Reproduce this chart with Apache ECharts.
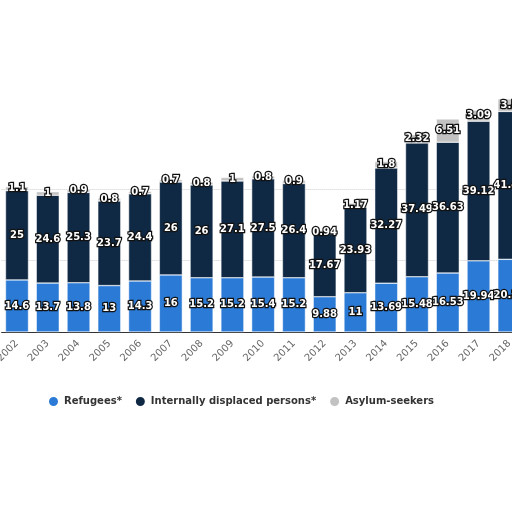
<!DOCTYPE html>
<html lang="en">
<head>
    <meta charset="UTF-8">
    <title>Displaced persons</title>
    <style>
    html, body { margin: 0; padding: 0; background: #fff; }
    #main { width: 512px; height: 512px; }
    </style>
</head>
<body>
<div id="main"></div>
<script src="https://cdn.jsdelivr.net/npm/echarts@6/dist/echarts.min.js"></script>
<script>
// values in millions
var years = ['2002','2003','2004','2005','2006','2007','2008','2009','2010','2011','2012','2013','2014','2015','2016','2017','2018'];
var refugees = [14.6, 13.7, 13.8, 13, 14.3, 16, 15.2, 15.2, 15.4, 15.2, 9.88, 11, 13.69, 15.48, 16.53, 19.94, 20.36];
var idps = [25, 24.6, 25.3, 23.7, 24.4, 26, 26, 27.1, 27.5, 26.4, 17.67, 23.93, 32.27, 37.49, 36.63, 39.12, 41.43];
var asylum = [1.1, 1, 0.9, 0.8, 0.7, 0.7, 0.8, 1, 0.8, 0.9, 0.94, 1.17, 1.8, 2.32, 6.51, 3.09, 3.5];

var labelStyle = {
    show: true,
    position: 'inside',
    color: '#fff',
    fontSize: 10,
    fontWeight: 'bold',
    fontFamily: 'DejaVu Sans',
    textBorderColor: '#111',
    textBorderWidth: 2.5
};

function bar(name, data, color) {
    return {
        name: name,
        type: 'bar',
        stack: 'total',
        barWidth: 23,
        data: data,
        itemStyle: { color: color, borderColor: '#fff', borderWidth: 0.5 },
        label: labelStyle
    };
}

var myChart = echarts.init(document.getElementById('main'));
var option = {
    animation: false,
    grid: { left: 1.6, right: -12.7, top: 46.4, bottom: 180, outerBoundsMode: 'none' },
    legend: {
        left: 42,
        top: 390,
        icon: 'circle',
        itemWidth: 11,
        itemHeight: 11,
        itemGap: 12,
        textStyle: { color: '#333', fontSize: 10, fontWeight: 'bold', fontFamily: 'DejaVu Sans' },
        data: ['Refugees*', 'Internally displaced persons*', 'Asylum-seekers']
    },
    xAxis: {
        type: 'category',
        data: years,
        axisLine: { lineStyle: { color: '#333' } },
        axisTick: { show: false },
        axisLabel: { rotate: 45, color: '#666', fontSize: 10, margin: 10, fontFamily: 'DejaVu Sans' }
    },
    yAxis: {
        type: 'value',
        min: 0,
        max: 80,
        interval: 20,
        axisLabel: { show: false },
        axisLine: { show: false },
        splitLine: {
            lineStyle: {
                type: 'dotted',
                color: ['#ccc', '#ccc', '#ccc', 'rgba(0,0,0,0)', 'rgba(0,0,0,0)']
            }
        }
    },
    series: [
        bar('Refugees*', refugees, '#2b7ad6'),
        bar('Internally displaced persons*', idps, '#0f2944'),
        bar('Asylum-seekers', asylum, '#c2c2c2')
    ]
};
myChart.setOption(option);
</script>
</body>
</html>
